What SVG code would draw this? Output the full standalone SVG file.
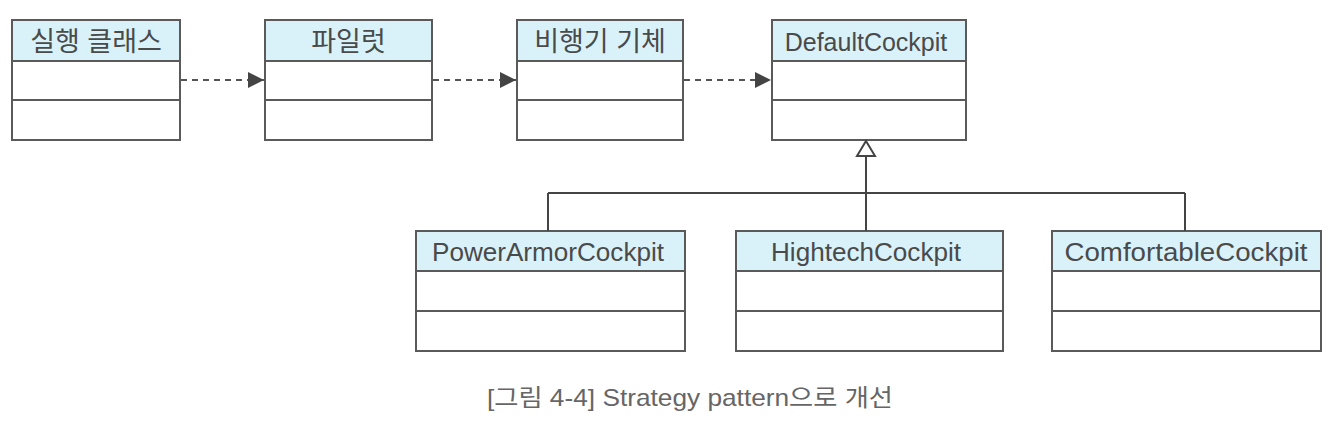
<svg xmlns="http://www.w3.org/2000/svg" width="1331" height="434" viewBox="0 0 1331 434">
<style>
.box{fill:#ffffff;stroke:#5a5a5a;stroke-width:2}
.hdr{fill:#d9f2f9;stroke:#5a5a5a;stroke-width:2}
.sep{stroke:#5a5a5a;stroke-width:2}
.lbl{font-family:"Liberation Sans","Noto Sans CJK KR",sans-serif;font-size:25px;fill:#4a4a4a;text-anchor:middle}
.ko{font-size:27px}
.dep{stroke:#555;stroke-width:2.2;stroke-dasharray:6 5;fill:none}
.gen{stroke:#444;stroke-width:2;fill:none}
.cap{font-family:"Liberation Sans","Noto Sans CJK KR",sans-serif;font-size:24px;fill:#666}
</style>
<defs>
<marker id="dep" viewBox="0 0 16 16" refX="16" refY="8" markerWidth="16" markerHeight="16" markerUnits="userSpaceOnUse" orient="auto">
<path d="M0,0 L16,8 L0,16 Z" fill="#444"/>
</marker>
</defs>
<rect width="1331" height="434" fill="#ffffff"/>
<g id="node-main">
<rect class="box" x="12" y="20" width="168" height="120"/>
<rect class="hdr" x="12" y="20" width="168" height="41"/>
<line class="sep" x1="12" y1="100" x2="180" y2="100"/>
<text class="lbl ko" x="96" y="51">실행 클래스</text>
</g>
<g id="node-pilot">
<rect class="box" x="265" y="20" width="167" height="120"/>
<rect class="hdr" x="265" y="20" width="167" height="41"/>
<line class="sep" x1="265" y1="100" x2="432" y2="100"/>
<text class="lbl ko" x="348.5" y="51">파일럿</text>
</g>
<g id="node-airframe">
<rect class="box" x="517" y="20" width="166" height="120"/>
<rect class="hdr" x="517" y="20" width="166" height="41"/>
<line class="sep" x1="517" y1="100" x2="683" y2="100"/>
<text class="lbl ko" x="600" y="51">비행기 기체</text>
</g>
<g id="node-default">
<rect class="box" x="772" y="20" width="194" height="120"/>
<rect class="hdr" x="772" y="20" width="194" height="41"/>
<line class="sep" x1="772" y1="100" x2="966" y2="100"/>
<text class="lbl" x="866" y="51">DefaultCockpit</text>
</g>
<g id="node-powerarmor">
<rect class="box" x="416" y="231" width="269" height="120"/>
<rect class="hdr" x="416" y="231" width="269" height="40"/>
<line class="sep" x1="416" y1="311" x2="685" y2="311"/>
<text class="lbl" x="548" y="261" textLength="232" lengthAdjust="spacingAndGlyphs">PowerArmorCockpit</text>
</g>
<g id="node-hightech">
<rect class="box" x="736" y="231" width="267" height="120"/>
<rect class="hdr" x="736" y="231" width="267" height="40"/>
<line class="sep" x1="736" y1="311" x2="1003" y2="311"/>
<text class="lbl" x="866" y="261" textLength="190" lengthAdjust="spacingAndGlyphs">HightechCockpit</text>
</g>
<g id="node-comfortable">
<rect class="box" x="1052" y="231" width="269" height="120"/>
<rect class="hdr" x="1052" y="231" width="269" height="40"/>
<line class="sep" x1="1052" y1="311" x2="1321" y2="311"/>
<text class="lbl" x="1186" y="261" textLength="243" lengthAdjust="spacingAndGlyphs">ComfortableCockpit</text>
</g>
<g id="connectors">
<line class="dep" x1="181" y1="80" x2="264" y2="80" marker-end="url(#dep)"/>
<line class="dep" x1="433" y1="80" x2="516" y2="80" marker-end="url(#dep)"/>
<line class="dep" x1="684" y1="80" x2="771" y2="80" marker-end="url(#dep)"/>
<path class="gen" d="M866,156 L866,193 M548,193 L1185,193 M548,193 L548,231 M866,193 L866,231 M1185,193 L1185,231"/>
<path d="M866,141 L875,156 L857,156 Z" fill="#ffffff" stroke="#444" stroke-width="2"/>
</g>
<text class="cap" x="487" y="406" textLength="406" lengthAdjust="spacingAndGlyphs">[그림 4-4] Strategy pattern으로 개선</text>
</svg>
